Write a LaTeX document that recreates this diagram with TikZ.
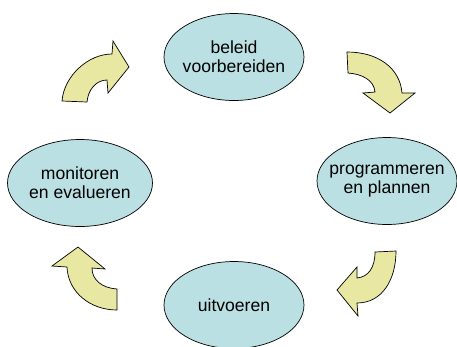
\documentclass[tikz,border=0pt]{standalone}
\usepackage{fontspec}
\setmainfont{Liberation Sans}
\usetikzlibrary{shapes.geometric}
\definecolor{phasefill}{HTML}{BBE0E3}
\definecolor{arrowfill}{HTML}{E8E8A2}
\begin{document}
\begin{tikzpicture}[x=0.02cm, y=-0.02cm,
  phase/.style={ellipse, draw, thin, fill=phasefill, inner xsep=-6pt, inner ysep=0pt,
    minimum width=2.8cm, minimum height=1.74cm, align=center,
    font=\fontsize{10}{11}\selectfont},
  turn/.style={draw, thin, fill=arrowfill, line join=miter}]
  \useasboundingbox (0, 0) rectangle (457, 346);
  \node[phase] (beleid) at (234, 57) {beleid\\voorbereiden};
  \node[phase] (plannen) at (387, 181) {programmeren\\en plannen};
  \node[phase] (uitvoeren) at (234, 305) {uitvoeren};
  \node[phase, minimum width=2.9cm] (monitoren) at (80, 183) {monitoren\\en evalueren};
  % curved arrows, clockwise
  \draw[turn] (62, 101) -- (87, 102) .. controls (88, 90) and (96, 80) .. (107, 80)
    -- (108, 93) -- (129, 67) -- (113, 41) -- (112, 54)
    .. controls (88, 54) and (64, 76) .. (62, 101) -- cycle;
  \draw[turn] (347, 52) -- (348, 73) .. controls (362, 74) and (374, 80) .. (375, 92)
    -- (363, 93) -- (390, 113) -- (415, 93) -- (402, 93)
    .. controls (400, 68) and (378, 52) .. (347, 52) -- cycle;
  \draw[turn] (396, 251) -- (375, 252) .. controls (375, 268) and (368, 277) .. (357, 278)
    -- (357, 267) -- (337, 290) -- (358, 316) -- (357, 303)
    .. controls (382, 303) and (396, 280) .. (396, 251) -- cycle;
  \draw[turn] (117, 310) -- (117, 289) .. controls (102, 288) and (92, 280) .. (92, 268)
    -- (105, 269) -- (78, 247) -- (52, 266) -- (67, 267)
    .. controls (68, 292) and (90, 310) .. (117, 310) -- cycle;
\end{tikzpicture}
\end{document}
